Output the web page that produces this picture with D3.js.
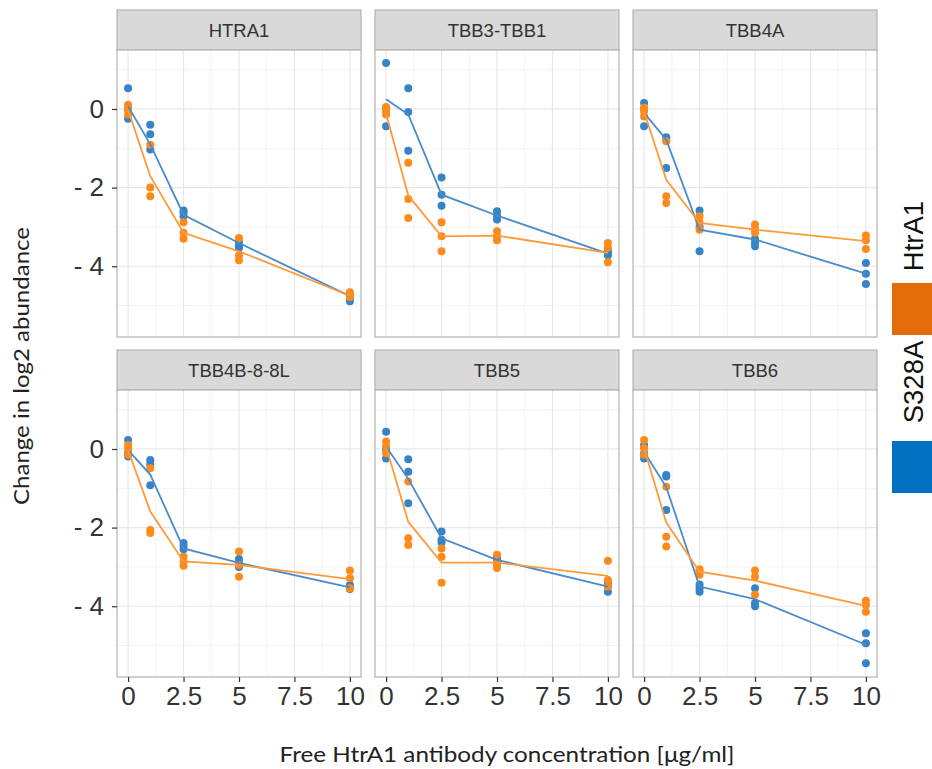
<!DOCTYPE html>
<html>
<head>
<meta charset="utf-8">
<script src="https://cdn.jsdelivr.net/npm/d3@7"></script>
<style>
  body { margin: 0; background: #fff; }
  svg { display: block; }
</style>
</head>
<body>
<div id="chart-container"></div>
<script>
// Facets, x values and tick labels
const proteins = ["HTRA1", "TBB3-TBB1", "TBB4A", "TBB4B-8-8L", "TBB5", "TBB6"];
const concentrations = [0, 1, 2.5, 5, 10];
const seriesNames = ["S328A", "HtrA1"];
const xTicks = [0, 2.5, 5, 7.5, 10];
const xTickLabels = ["0", "2.5", "5", "7.5", "10"];
const yTicks = [0, -2, -4];
const yTickLabels = ["0", "- 2", "- 4"];

// Replicates per concentration (S328A = blue, HtrA1 = orange)
const htra1_S328A = [[0.53, 0.0, -0.25], [-0.4, -0.64, -1.03], [-2.58, -2.64, -2.73], [-3.39, -3.47, -3.53], [-4.76, -4.82, -4.89]];
const htra1_HtrA1 = [[0.11, -0.02, -0.14], [-0.91, -2.0, -2.22], [-2.88, -3.15, -3.3], [-3.28, -3.73, -3.85], [-4.66, -4.72, -4.78]];
const tbb3_S328A = [[1.17, 0.02, -0.44], [0.53, -0.08, -1.06], [-1.74, -2.18, -2.46], [-2.6, -2.71, -2.81], [-3.6, -3.66, -3.72]];
const tbb3_HtrA1 = [[0.05, -0.05, -0.14], [-1.37, -2.29, -2.77], [-2.88, -3.24, -3.62], [-3.11, -3.24, -3.34], [-3.41, -3.53, -3.9]];
const tbb4a_S328A = [[0.15, 0.0, -0.44], [-0.72, -0.8, -1.5], [-2.58, -3.0, -3.62], [-3.3, -3.4, -3.49], [-3.92, -4.19, -4.45]];
const tbb4a_HtrA1 = [[0.03, -0.06, -0.19], [-0.82, -2.22, -2.39], [-2.73, -2.88, -3.07], [-2.94, -3.05, -3.15], [-3.22, -3.34, -3.56]];
const tbb4b_S328A = [[0.23, -0.1, -0.19], [-0.28, -0.39, -0.92], [-2.39, -2.47, -2.55], [-2.8, -2.9, -3.0], [-3.46, -3.52, -3.56]];
const tbb4b_HtrA1 = [[0.1, 0.02, -0.15], [-0.49, -2.06, -2.14], [-2.74, -2.86, -2.97], [-2.61, -2.95, -3.25], [-3.09, -3.29, -3.54]];
const tbb5_S328A = [[0.44, 0.0, -0.24], [-0.26, -0.58, -1.38], [-2.1, -2.31, -2.38], [-2.74, -2.82, -2.91], [-3.4, -3.5, -3.63]];
const tbb5_HtrA1 = [[0.19, 0.06, -0.11], [-0.83, -2.27, -2.44], [-2.53, -2.74, -3.4], [-2.69, -2.91, -3.03], [-2.84, -3.33, -3.5]];
const tbb6_S328A = [[0.1, -0.11, -0.24], [-0.66, -0.7, -1.55], [-3.45, -3.54, -3.63], [-3.54, -3.92, -4.0], [-4.69, -4.94, -5.45]];
const tbb6_HtrA1 = [[0.23, 0.02, -0.15], [-0.96, -2.23, -2.48], [-3.06, -3.12, -3.2], [-3.09, -3.25, -3.71], [-3.86, -3.97, -4.14]];

// Line values (group means)
const htra1_S328A_line = [0.07, -0.9, -2.69, -3.41, -4.76];
const htra1_HtrA1_line = [-0.02, -1.71, -3.15, -3.62, -4.75];
const tbb3_S328A_line = [0.25, -0.14, -2.18, -2.71, -3.68];
const tbb3_HtrA1_line = [-0.12, -2.2, -3.24, -3.22, -3.66];
const tbb4a_S328A_line = [-0.1, -0.78, -3.07, -3.32, -4.19];
const tbb4a_HtrA1_line = [-0.07, -1.8, -2.9, -3.07, -3.36];
const tbb4b_S328A_line = [-0.03, -0.65, -2.53, -2.9, -3.52];
const tbb4b_HtrA1_line = [-0.03, -1.59, -2.86, -2.95, -3.31];
const tbb5_S328A_line = [0.06, -0.76, -2.27, -2.82, -3.5];
const tbb5_HtrA1_line = [0.05, -1.85, -2.89, -2.89, -3.23];
const tbb6_S328A_line = [-0.07, -0.97, -3.5, -3.82, -4.98];
const tbb6_HtrA1_line = [0.02, -1.87, -3.12, -3.35, -3.99];

const pointsByProtein = [
  [htra1_S328A, htra1_HtrA1], [tbb3_S328A, tbb3_HtrA1], [tbb4a_S328A, tbb4a_HtrA1],
  [tbb4b_S328A, tbb4b_HtrA1], [tbb5_S328A, tbb5_HtrA1], [tbb6_S328A, tbb6_HtrA1]
];
const linesByProtein = [
  [htra1_S328A_line, htra1_HtrA1_line], [tbb3_S328A_line, tbb3_HtrA1_line], [tbb4a_S328A_line, tbb4a_HtrA1_line],
  [tbb4b_S328A_line, tbb4b_HtrA1_line], [tbb5_S328A_line, tbb5_HtrA1_line], [tbb6_S328A_line, tbb6_HtrA1_line]
];

const pointColor = { "S328A": "#3584c8", "HtrA1": "#ff8a1c" };
const lineColor = { "S328A": "#4a8ccb", "HtrA1": "#ff9a3a" };
const legendColor = { "HtrA1": "#e36c0a", "S328A": "#0070c0" };

// Layout
const width = 932, height = 769;
const colLeft = [117, 375, 633];
const rowTop = [10, 350];
const panelW = 244, stripH = 40, panelH = 287;

const svg = d3.select("#chart-container").append("svg")
  .attr("width", width).attr("height", height);

const x = d3.scaleLinear().domain([-0.5, 10.5]).range([0, panelW]);
const y = d3.scaleLinear().domain([-5.8, 1.5]).range([panelH, 0]);
const xMinor = [1.25, 3.75, 6.25, 8.75];
const yMinor = [1, -1, -3, -5];

proteins.forEach(function(name, i) {
  const col = i % 3, row = Math.floor(i / 3);
  const g = svg.append("g").attr("transform", `translate(${colLeft[col]},${rowTop[row]})`);

  // strip
  g.append("rect").attr("width", panelW).attr("height", stripH)
    .attr("fill", "#d9d9d9").attr("stroke", "#b3b3b3").attr("stroke-width", 1.2);
  g.append("text").attr("x", panelW / 2).attr("y", stripH / 2 + 7)
    .attr("text-anchor", "middle")
    .style("font-family", "Liberation Sans, Arial, sans-serif")
    .style("font-size", "18.5px").style("fill", "#333")
    .text(name);

  const p = g.append("g").attr("transform", `translate(0,${stripH})`);
  p.append("rect").attr("width", panelW).attr("height", panelH).attr("fill", "#fff");

  // grid
  p.selectAll(".xminor").data(xMinor).enter().append("line")
    .attr("x1", d => x(d)).attr("x2", d => x(d)).attr("y1", 0).attr("y2", panelH)
    .attr("stroke", "#f3f3f3").attr("stroke-width", 1);
  p.selectAll(".yminor").data(yMinor).enter().append("line")
    .attr("y1", d => y(d)).attr("y2", d => y(d)).attr("x1", 0).attr("x2", panelW)
    .attr("stroke", "#f3f3f3").attr("stroke-width", 1);
  p.selectAll(".xmajor").data(xTicks).enter().append("line")
    .attr("x1", d => x(d)).attr("x2", d => x(d)).attr("y1", 0).attr("y2", panelH)
    .attr("stroke", "#e8e8e8").attr("stroke-width", 1.2);
  p.selectAll(".ymajor").data(yTicks).enter().append("line")
    .attr("y1", d => y(d)).attr("y2", d => y(d)).attr("x1", 0).attr("x2", panelW)
    .attr("stroke", "#e8e8e8").attr("stroke-width", 1.2);

  // points
  seriesNames.forEach(function(s, si) {
    const pts = [];
    pointsByProtein[i][si].forEach(function(reps, ci) {
      reps.forEach(v => pts.push({ c: concentrations[ci], v: v }));
    });
    p.selectAll(".pt" + si).data(pts).enter().append("circle")
      .attr("cx", d => x(d.c)).attr("cy", d => y(d.v)).attr("r", 4)
      .attr("fill", pointColor[s]);
  });

  // lines
  const line = d3.line().x((d, k) => x(concentrations[k])).y(d => y(d));
  seriesNames.forEach(function(s, si) {
    p.append("path").datum(linesByProtein[i][si])
      .attr("d", line).attr("fill", "none")
      .attr("stroke", lineColor[s]).attr("stroke-width", 1.8);
  });

  p.append("rect").attr("width", panelW).attr("height", panelH)
    .attr("fill", "none").attr("stroke", "#b3b3b3").attr("stroke-width", 1.2);

  // axes
  if (row === 1) {
    const ax = p.append("g").attr("transform", `translate(0,${panelH})`)
      .call(d3.axisBottom(x).tickValues(xTicks).tickSize(5).tickPadding(5)
        .tickFormat((d, k) => xTickLabels[k]));
    ax.select(".domain").remove();
    ax.selectAll("line").attr("stroke", "#333").attr("stroke-width", 1.2);
    ax.selectAll("text").style("font-family", "Liberation Sans, Arial, sans-serif")
      .style("font-size", "26px").style("fill", "#333");
  }
  if (col === 0) {
    const ay = p.append("g")
      .call(d3.axisLeft(y).tickValues(yTicks).tickSize(5).tickPadding(8)
        .tickFormat((d, k) => yTickLabels[k]));
    ay.select(".domain").remove();
    ay.selectAll("line").attr("stroke", "#333").attr("stroke-width", 1.2);
    ay.selectAll("text").style("font-family", "Liberation Sans, Arial, sans-serif")
      .style("font-size", "26px").style("fill", "#333");
  }
});

// axis titles
svg.append("text")
  .attr("x", 507).attr("y", 762)
  .attr("text-anchor", "middle")
  .attr("textLength", 455).attr("lengthAdjust", "spacingAndGlyphs")
  .style("font-family", "Lato, Open Sans, sans-serif")
  .style("font-size", "22px").style("fill", "#222")
  .text("Free HtrA1 antibody concentration [μg/ml]");

svg.append("text")
  .attr("transform", "translate(29,366) rotate(-90)")
  .attr("text-anchor", "middle")
  .attr("textLength", 278).attr("lengthAdjust", "spacingAndGlyphs")
  .style("font-family", "Lato, Open Sans, sans-serif")
  .style("font-size", "22px").style("fill", "#222")
  .text("Change in log2 abundance");

// legend
const legendItems = [
  { name: "HtrA1", textY: 236, rectY: 283 },
  { name: "S328A", textY: 382, rectY: 441 }
];
legendItems.forEach(function(d) {
  svg.append("text")
    .attr("transform", `translate(923,${d.textY}) rotate(-90)`)
    .attr("text-anchor", "middle")
    .style("font-family", "Liberation Sans, Arial, sans-serif")
    .style("font-size", "27.5px").style("fill", "#111")
    .text(d.name);
  svg.append("rect")
    .attr("x", 892).attr("y", d.rectY).attr("width", 42).attr("height", 52)
    .attr("fill", legendColor[d.name]);
});
</script>
</body>
</html>
